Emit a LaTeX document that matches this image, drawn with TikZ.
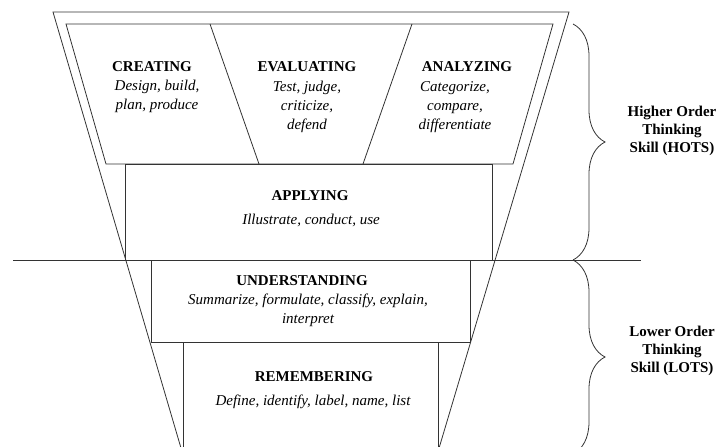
\documentclass[tikz,border=0pt]{standalone}
\usepackage{fontspec}
\setmainfont{Liberation Serif}
\usetikzlibrary{decorations.pathreplacing}
\begin{document}
\begin{tikzpicture}[x=1pt,y=-1pt,
  edge/.style={line width=0.8pt, draw=black!80},
  ttl/.style={font=\fontsize{15}{18}\selectfont\bfseries, inner sep=0pt},
  desc/.style={font=\fontsize{15}{19}\selectfont\itshape, align=center, inner sep=0pt},
  side/.style={font=\fontsize{15}{18}\selectfont\bfseries, align=center, inner sep=0pt},
  brc/.style={decorate, decoration={brace, amplitude=32pt, aspect=0.5}, line width=0.8pt, draw=black!80}]
\useasboundingbox (0,0) rectangle (721,447);
\begin{scope}
\clip (0,0) rectangle (721,447);
% outer funnel
\draw[edge] (184.5,460) -- (53,12) -- (569,12) -- (435.5,460);
% upper (HOTS) section
\draw[edge] (66,24) -- (553,24) -- (513,164) -- (106,164) -- cycle;
\draw[edge] (210,24) -- (259,164);
\draw[edge] (412,24) -- (363,164);
% boxes
\draw[edge] (125,164) rectangle (492,260);
\draw[edge] (151,260) rectangle (470,342);
\draw[edge] (183,342) rectangle (438,460);
% divider line
\coordinate (hl) at (13,260);
\coordinate (hr) at (641,260);
\draw[edge] (hl) -- (hr);
% braces
\coordinate (b1) at (573,24);
\coordinate (b2) at (573,260);
\coordinate (b3) at (573,454);
\draw[brc] (b1) -- (b2);
\draw[brc] (b2) -- (b3);
\end{scope}
% texts
\node[ttl] (cre) at (152,67) {CREATING};
\node[desc] (cred) at (157,96.5) {Design, build,\\plan, produce};
\node[ttl] (eva) at (307,67) {EVALUATING};
\node[desc] (evad) at (307,107) {Test, judge,\\criticize,\\defend};
\node[ttl] (ana) at (467,67) {ANALYZING};
\node[desc] (anad) at (455,107) {Categorize,\\compare,\\differentiate};
\node[ttl] (app) at (310,196) {APPLYING};
\node[desc] (appd) at (311,220) {Illustrate, conduct, use};
\node[ttl] (und) at (302,281) {UNDERSTANDING};
\node[desc] (undd) at (308,310.5) {Summarize, formulate, classify, explain,\\interpret};
\node[ttl] (rem) at (314,377) {REMEMBERING};
\node[desc] (remd) at (313,402) {Define, identify, label, name, list};
\node[side] (hots) at (672,131) {Higher Order\\Thinking\\Skill (HOTS)};
\node[side] (lots) at (672,351) {Lower Order\\Thinking\\Skill (LOTS)};
\end{tikzpicture}
\end{document}
